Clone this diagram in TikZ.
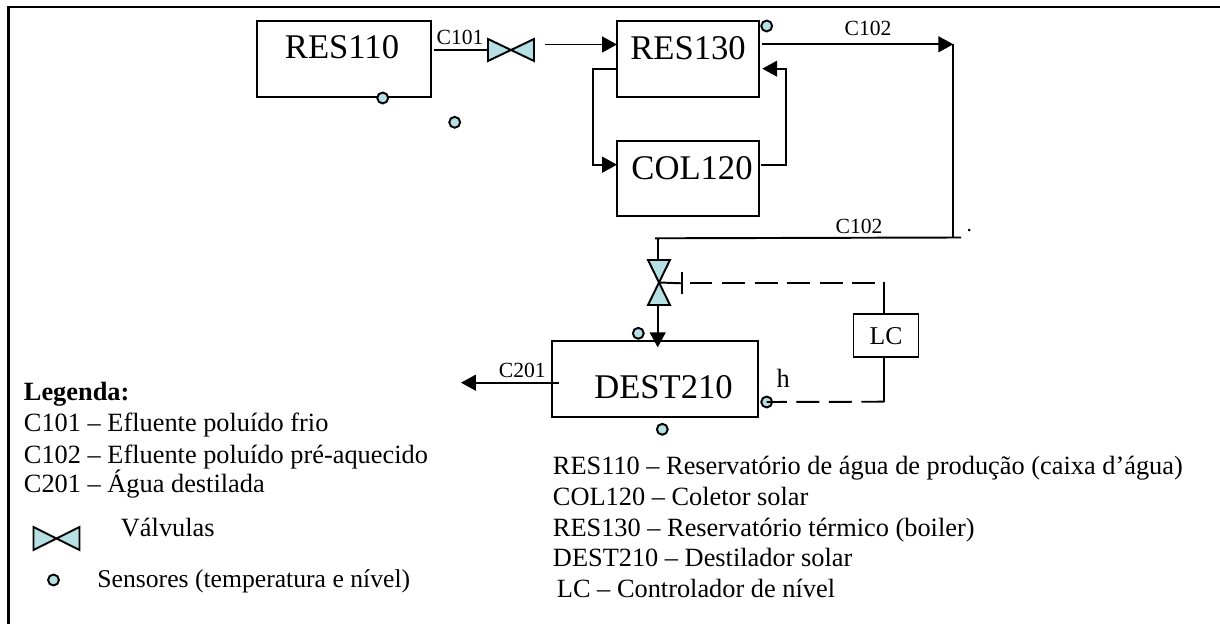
\documentclass[tikz,border=0pt]{standalone}
\usepackage{fontspec}
\setmainfont{Liberation Serif}
\usetikzlibrary{arrows.meta}
\definecolor{valveblue}{RGB}{182,224,228}
\begin{document}
\begin{tikzpicture}[
  x=0.02cm,
  y=-0.02cm,
  line width=1.1pt,
  unit/.style={draw=black, inner sep=0pt},
  unittext/.style={font=\fontsize{19.7}{22}\selectfont, inner sep=0pt},
  stream/.style={black, -{Triangle[length=8.5pt,width=9pt]}},
  pipe/.style={black},
  signal/.style={black, dash pattern=on 13pt off 5.5pt},
  valvebody/.style={draw=black, fill=valveblue, line join=miter},
  sensor/.style={circle, draw=black, fill=valveblue, inner sep=0pt, minimum size=6.2pt},
  tag/.style={font=\fontsize{12.3}{14}\selectfont, anchor=base, inner sep=0pt},
  legend/.style={font=\fontsize{15}{17}\selectfont, anchor=base west, inner sep=0pt},
]
  \useasboundingbox (0,0) rectangle (1220,624);

  % moldura
  \draw[line width=1.3pt] (8.5,624) -- (8.5,7) -- (1220,7);

  % unidades
  \node[unit, minimum width=3.48cm, minimum height=1.52cm] (res110) at (344,58.7) {};
  \node[unittext] (res110txt) at (342,47.5) {RES110};
  \node[unit, minimum width=2.83cm, minimum height=1.52cm] (res130) at (688,58.7) {};
  \node[unittext] (res130txt) at (688,48) {RES130};
  \node[unit, minimum width=2.83cm, minimum height=1.506cm] (col120) at (688,178.3) {};
  \node[unittext] (col120txt) at (692,168) {COL120};
  \node[unit, minimum width=4.12cm, minimum height=1.515cm] (dest210) at (654.7,378.9) {};
  \node[unittext] (dest210txt) at (663.5,386.7) {DEST210};
  \node[unit, minimum width=1.3cm, minimum height=0.86cm, font=\fontsize{14.6}{16}\selectfont] (lc) at (886,335.8) {LC};

  % valvulas
  \coordinate (vone) at (511,50);
  \coordinate (vtwo) at (659,282.5);
  \coordinate (vleg) at (56.5,538.5);
  \draw[valvebody] (vone) -- ++(-23,-11) -- ++(0,22) -- cycle;
  \draw[valvebody] (vone) -- ++(23,-11) -- ++(0,22) -- cycle;
  \draw[valvebody] (vtwo) -- ++(-11,-22.5) -- ++(22,0) -- cycle;
  \draw[valvebody] (vtwo) -- ++(-11,22.5) -- ++(22,0) -- cycle;
  \draw[valvebody] (vleg) -- ++(-23,-11.5) -- ++(0,23) -- cycle;
  \draw[valvebody] (vleg) -- ++(23,-11.5) -- ++(0,23) -- cycle;

  % sensores
  \node[sensor] (s1) at (382.7,98) {};
  \node[sensor] (s2) at (454.7,122.3) {};
  \node[sensor] (s3) at (766.7,26) {};
  \node[sensor] (s4) at (638.3,333.3) {};
  \node[sensor] (s5) at (662.3,429.3) {};
  \node[sensor] (s6) at (766.7,402) {};
  \node[sensor] (s7) at (53.5,580) {};

  % correntes
  \coordinate (c1a) at (433.5,50);
  \coordinate (c1b) at (488,50);
  \coordinate (c2a) at (545,44.5);
  \coordinate (c2b) at (617,44.5);
  \coordinate (c3a) at (617,68.7);
  \coordinate (c3b) at (593,68.7);
  \coordinate (c3c) at (593,164.7);
  \coordinate (c3d) at (617,164.7);
  \coordinate (c4a) at (761,164.7);
  \coordinate (c4b) at (785.7,164.7);
  \coordinate (c4c) at (785.7,68.7);
  \coordinate (c4d) at (762.3,68.7);
  \coordinate (c5a) at (761.7,44.3);
  \coordinate (c5b) at (953.3,44.3);
  \coordinate (c5c) at (953.3,237.5);
  \coordinate (c6a) at (961,237.5);
  \coordinate (c6b) at (655,238.3);
  \coordinate (c6c) at (657.7,238.3);
  \coordinate (c6d) at (657.7,260);
  \coordinate (c7a) at (657.7,305);
  \coordinate (c7b) at (657.7,347.3);
  \coordinate (c8a) at (559,382.7);
  \coordinate (c8b) at (461,382.7);
  \draw[pipe] (c1a) -- (c1b);
  \draw[stream] (c2a) -- (c2b);
  \draw[stream] (c3a) -- (c3b) -- (c3c) -- (c3d);
  \draw[stream] (c4a) -- (c4b) -- (c4c) -- (c4d);
  \draw[stream] (c5a) -- (c5b);
  \draw[pipe] (c5b) -- (c5c);
  \draw[pipe] (c6a) -- (c6b);
  \draw[pipe] (c6c) -- (c6d);
  \draw[stream] (c7a) -- (c7b);
  \draw[stream] (c8a) -- (c8b);

  % controle
  \coordinate (c9a) at (681.7,271.7);
  \coordinate (c9b) at (681.7,294);
  \coordinate (c9c) at (681.7,283.3);
  \coordinate (c9d) at (875,283.3);
  \coordinate (c9e) at (687,283.3);
  \coordinate (c9f) at (884,281.7);
  \coordinate (c9g) at (884.3,401.7);
  \coordinate (c9h) at (884.3,357.3);
  \draw[pipe] (vtwo) -- (c9c);
  \draw[pipe] (c9a) -- (c9b);
  \draw[signal] (c9d) -- (c9e);
  \draw[pipe] (c9f) -- (lc.north -| c9f);
  \draw[pipe] (c9h) -- (c9g);
  \draw[signal] (c9g) -- (s6.center);

  % rotulos
  \node[tag] (t1) at (460,44.5) {C101};
  \node[tag] (t2) at (868,36) {C102};
  \node[tag] (t3) at (859,233.5) {C102};
  \node[tag] (t4) at (522.3,378) {C201};
  \node[legend] (t5) at (775.7,387.7) {h};
  \node[tag] (t6) at (969.3,232) {.};

  % legenda
  \node[legend] (l1) at (23,401) {\textbf{Legenda:}};
  \node[legend] (l2) at (23,432) {C101 – Efluente poluído frio};
  \node[legend] (l3) at (23,463) {C102 – Efluente poluído pré-aquecido};
  \node[legend] (l4) at (23,493) {C201 – Água destilada};
  \node[legend] (l5) at (120,537) {Válvulas};
  \node[legend, font=\fontsize{14.6}{17}\selectfont] (l6) at (96.5,587) {Sensores (temperatura e nível)};
  \node[legend] (d1) at (552,474.5) {RES110 – Reservatório de água de produção (caixa d’água)};
  \node[legend] (d2) at (552,505) {COL120 – Coletor solar};
  \node[legend] (d3) at (552,536) {RES130 – Reservatório térmico (boiler)};
  \node[legend] (d4) at (552,566.5) {DEST210 – Destilador solar};
  \node[legend] (d5) at (556,597) {LC – Controlador de nível};
\end{tikzpicture}
\end{document}
